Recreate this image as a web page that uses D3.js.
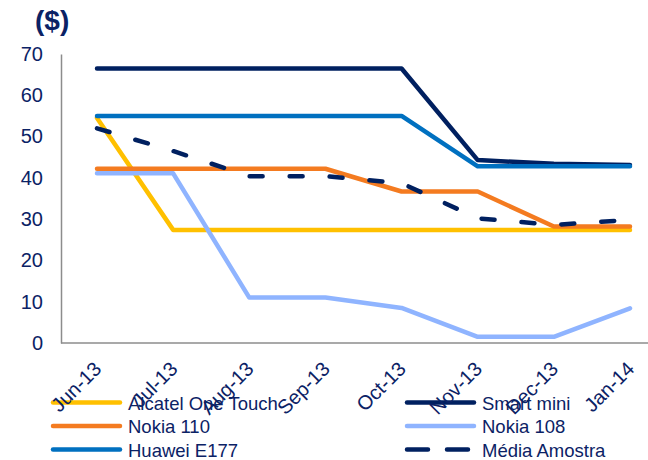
<!DOCTYPE html>
<html>
<head>
<meta charset="utf-8">
<script src="https://cdn.jsdelivr.net/npm/d3@7"></script>
<style>
  body { margin: 0; background: #fff; }
  svg { display: block; font-family: "Liberation Sans", Arial, sans-serif; }
</style>
</head>
<body>
<svg id="chart"></svg>
<script>
// months on the x axis
var months = ["Jun-13", "Jul-13", "Aug-13", "Sep-13", "Oct-13", "Nov-13", "Dec-13", "Jan-14"];
var yTicks = [0, 10, 20, 30, 40, 50, 60, 70];

// price per phone ($)
var alcatel   = [54.5, 27.4, 27.4, 27.4, 27.4, 27.4, 27.4, 27.4];
var smartMini = [66.5, 66.5, 66.5, 66.5, 66.5, 44.3, 43.4, 43.1];
var nokia110  = [42.2, 42.2, 42.2, 42.2, 36.7, 36.7, 28.2, 28.2];
var nokia108  = [41.1, 41.1, 11.0, 11.0, 8.5, 1.5, 1.5, 8.4];
var huawei    = [55.0, 55.0, 55.0, 55.0, 55.0, 42.8, 42.8, 42.8];
var media     = [52.0, 46.5, 40.4, 40.4, 38.7, 30.2, 28.6, 29.8];

var seriesNames = ["Alcatel One Touch", "Smart mini", "Nokia 110", "Nokia 108", "Huawei E177", "Média Amostra"];
var seriesValues = [alcatel, smartMini, nokia110, nokia108, huawei, media];
var seriesColors = ["#FFC000", "#002060", "#F47B20", "#8FB4FF", "#0070C0", "#002060"];

var width = 648, height = 460;
var textColor = "#0B2265";

var svg = d3.select("#chart")
    .attr("width", width)
    .attr("height", height);

var x = d3.scalePoint()
    .domain(months)
    .range([97, 630]);

var y = d3.scaleLinear()
    .domain([0, 70])
    .range([343, 54]);

// y axis
var yAxis = svg.append("g")
    .attr("transform", "translate(61,0)")
    .call(d3.axisLeft(y).tickValues(yTicks).tickSize(0).tickPadding(18));
yAxis.select(".domain").attr("stroke", "#8c8c8c").attr("stroke-width", 1.5);
yAxis.selectAll("text")
    .style("font-size", "20px")
    .attr("fill", textColor);

svg.append("line")
    .attr("x1", 61).attr("x2", width)
    .attr("y1", y(0)).attr("y2", y(0))
    .attr("stroke", "#8c8c8c")
    .attr("stroke-width", 1.5);

// title
svg.append("text").text("($)")
    .attr("x", 35).attr("y", 30)
    .attr("fill", textColor)
    .style("font-size", "28px")
    .style("font-weight", "bold");

var line = d3.line()
    .x(function(d, i) { return x(months[i]); })
    .y(function(d) { return y(d); });

seriesValues.forEach(function(vals, i) {
    svg.append("path")
        .datum(vals)
        .attr("d", line)
        .attr("fill", "none")
        .attr("stroke", seriesColors[i])
        .attr("stroke-width", 4.5)
        .attr("stroke-linejoin", "round")
        .attr("stroke-linecap", "round")
        .attr("stroke-dasharray", i == 5 ? "13,27" : null);
});

// legend, two columns
seriesNames.forEach(function(name, i) {
    var col = i % 2, row = Math.floor(i / 2);
    var lx = col == 0 ? 53 : 407;
    var ly = 402.5 + row * 23.5;
    svg.append("line")
        .attr("x1", lx).attr("x2", lx + 67)
        .attr("y1", ly).attr("y2", ly)
        .attr("stroke", seriesColors[i])
        .attr("stroke-width", 4.5)
        .attr("stroke-linecap", "round")
        .attr("stroke-dasharray", i == 5 ? "21,19" : null);
    svg.append("text").text(name)
        .attr("x", lx + 75).attr("y", ly + 7)
        .attr("fill", textColor)
        .style("font-size", "18.5px");
});

// x axis labels (drawn last, they sit over the legend)
var xAxis = svg.append("g")
    .attr("transform", "translate(0," + y(0) + ")")
    .call(d3.axisBottom(x).tickSize(0));
xAxis.select(".domain").remove();
xAxis.selectAll("text")
    .style("font-size", "20px")
    .attr("fill", textColor)
    .attr("text-anchor", "end")
    .attr("dy", 0)
    .attr("transform", "translate(3,25)rotate(-45)");
</script>
</body>
</html>
